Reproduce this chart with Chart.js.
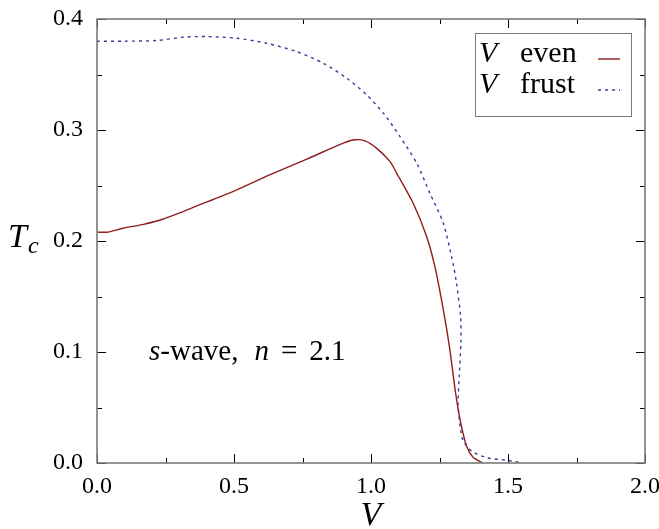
<!DOCTYPE html>
<html>
<head>
<meta charset="utf-8">
<script src="https://cdn.jsdelivr.net/npm/chart.js@4.4.1/dist/chart.umd.min.js"></script>
</head>
<body style="margin:0">
<canvas id="c" width="659" height="529" style="display:block"></canvas>
<script>
// ---- data ----
const vEven  = [0, 0.04, 0.095, 0.17, 0.242, 0.376, 0.498, 0.632, 0.766, 0.899, 0.942, 0.98, 1.02, 1.069, 1.094, 1.154, 1.203, 1.234, 1.264, 1.288, 1.307, 1.325, 1.349, 1.373, 1.409];
const tcEven = [0.208, 0.208, 0.2115, 0.215, 0.2198, 0.2327, 0.2447, 0.2597, 0.2738, 0.2882, 0.2912, 0.2900, 0.2837, 0.2717, 0.261, 0.234, 0.204, 0.176, 0.138, 0.102, 0.066, 0.039, 0.015, 0.005, 0.0];
const vFrust  = [0, 0.1, 0.217, 0.315, 0.4, 0.509, 0.619, 0.728, 0.826, 0.911, 0.984, 1.045, 1.106, 1.167, 1.215, 1.264, 1.300, 1.312, 1.327, 1.328, 1.322, 1.318, 1.325, 1.337, 1.368, 1.423, 1.496, 1.556];
const tcFrust = [0.380, 0.380, 0.3806, 0.3836, 0.3842, 0.3827, 0.3782, 0.3707, 0.3602, 0.3467, 0.3317, 0.3152, 0.294, 0.270, 0.243, 0.216, 0.179, 0.162, 0.132, 0.108, 0.078, 0.054, 0.033, 0.0196, 0.0106, 0.0047, 0.0025, 0.0];
const xTickLabels = ['0.0', '0.5', '1.0', '1.5', '2.0'];
const yTickLabels = ['0.0', '0.1', '0.2', '0.3', '0.4'];
const seriesLabels = ['even', 'frust'];
const annotation = {x: 0.19, y: 0.093};

const FAM = '"Liberation Serif"';
const FRAME = '#7a7a7a';

function pts(xs, ys){ return xs.map((x,i)=>({x:x, y:ys[i]})); }
function fnt(style, size){ return (style ? style + ' ' : '') + size + 'px ' + FAM; }

const framePlugin = {
  id: 'frameTicks',
  afterDraw(chart){
    const ctx = chart.ctx, a = chart.chartArea;
    const xs = chart.scales.x, ys = chart.scales.y;
    ctx.save();
    ctx.strokeStyle = '#000';
    ctx.lineWidth = 1;
    xs.ticks.forEach(t=>{
      const major = Math.abs(t.value*2 - Math.round(t.value*2)) < 1e-6;
      const L = major ? 9 : 5;
      const px = Math.round(xs.getPixelForValue(t.value)) + 0.5;
      ctx.beginPath();
      ctx.moveTo(px, a.bottom); ctx.lineTo(px, a.bottom - L);
      ctx.moveTo(px, a.top); ctx.lineTo(px, a.top + L);
      ctx.stroke();
    });
    ys.ticks.forEach(t=>{
      const major = Math.abs(t.value*10 - Math.round(t.value*10)) < 1e-6;
      const L = major ? 9 : 5;
      const py = Math.round(ys.getPixelForValue(t.value)) + 0.5;
      ctx.beginPath();
      ctx.moveTo(a.left, py); ctx.lineTo(a.left + L, py);
      ctx.moveTo(a.right, py); ctx.lineTo(a.right - L, py);
      ctx.stroke();
    });
    ctx.strokeStyle = FRAME;
    ctx.lineWidth = 1.6;
    ctx.strokeRect(a.left, a.top, a.right - a.left, a.bottom - a.top);

    // axis titles
    ctx.fillStyle = '#000';
    ctx.textBaseline = 'alphabetic';
    ctx.textAlign = 'center';
    ctx.font = fnt('italic', 34);
    ctx.fillText('V', (a.left + a.right)/2, 525);
    ctx.textAlign = 'left';
    ctx.fillText('T', 8, 247);
    ctx.font = fnt('italic', 24);
    ctx.fillText('c', 28, 253);

    // annotation
    let x = xs.getPixelForValue(annotation.x), y = ys.getPixelForValue(annotation.y);
    const parts = [['s', true, 0], ['-wave,', false, 16], ['n', true, 12], ['=', false, 12], ['2.1', false, 0]];
    parts.forEach(([s, it, gap])=>{
      ctx.font = fnt(it ? 'italic' : '', 29);
      ctx.fillText(s, x, y);
      x += ctx.measureText(s).width + gap;
    });

    // legend
    const bx = a.right - 170, by = a.top + 14, bw = 156, bh = 83;
    ctx.fillStyle = '#fff';
    ctx.fillRect(bx, by, bw, bh);
    ctx.strokeStyle = FRAME;
    ctx.lineWidth = 1;
    ctx.strokeRect(bx + 0.5, by + 0.5, bw, bh);
    const rows = [
      {label: seriesLabels[0], base: by + 29, ds: chart.data.datasets[0]},
      {label: seriesLabels[1], base: by + 60, ds: chart.data.datasets[1]}
    ];
    rows.forEach(r=>{
      ctx.fillStyle = '#000';
      ctx.font = fnt('italic', 30);
      ctx.fillText('V', bx + 4, r.base);
      ctx.font = fnt('', 30);
      ctx.fillText(r.label, bx + 45, r.base);
      ctx.strokeStyle = r.ds.borderColor;
      ctx.lineWidth = r.ds.borderWidth;
      ctx.setLineDash(r.ds.borderDash || []);
      ctx.beginPath();
      const ly = r.base - 3;
      ctx.moveTo(bx + 123, ly); ctx.lineTo(bx + 145, ly);
      ctx.stroke();
      ctx.setLineDash([]);
    });
    ctx.restore();
  }
};

function noPad(s){ s.paddingTop = 0; s.paddingBottom = 0; s.paddingLeft = 0; s.paddingRight = 0; }

new Chart(document.getElementById('c'), {
  type: 'line',
  data: {
    datasets: [
      {label: 'V ' + seriesLabels[0], data: pts(vEven, tcEven), borderColor: '#8f1d1d', borderWidth: 1.4, pointRadius: 0, tension: 0.25, fill: false},
      {label: 'V ' + seriesLabels[1], data: pts(vFrust, tcFrust), borderColor: '#3b3b9e', borderWidth: 1.4, borderDash: [3, 4], pointRadius: 0, tension: 0.25, fill: false}
    ]
  },
  options: {
    responsive: false,
    animation: false,
    layout: {padding: {left: 0, right: 14, top: 19, bottom: 0}},
    plugins: {legend: {display: false}, tooltip: {enabled: false}},
    scales: {
      x: {
        type: 'linear', min: 0, max: 2,
        grid: {display: false, drawTicks: false},
        border: {display: false},
        afterFit(s){ s.height = 66; noPad(s); },
        ticks: {
          stepSize: 0.25, autoSkip: false, maxRotation: 0, padding: 9,
          color: '#000', font: {family: FAM, size: 24},
          callback(v){ return Math.abs(v*2 - Math.round(v*2)) < 1e-6 ? xTickLabels[Math.round(v*2)] : ''; }
        }
      },
      y: {
        type: 'linear', min: 0, max: 0.4,
        grid: {display: false, drawTicks: false},
        border: {display: false},
        afterFit(s){ s.width = 97; noPad(s); },
        ticks: {
          stepSize: 0.05, autoSkip: false, padding: 14,
          color: '#000', font: {family: FAM, size: 24},
          callback(v){ return Math.abs(v*10 - Math.round(v*10)) < 1e-6 ? yTickLabels[Math.round(v*10)] : ''; }
        }
      }
    }
  },
  plugins: [framePlugin]
});
</script>
</body>
</html>
